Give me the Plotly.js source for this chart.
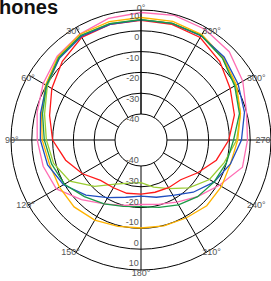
<!DOCTYPE html>
<html><head><meta charset="utf-8">
<script src="https://cdn.plot.ly/plotly-3.0.1.min.js"></script>
<style>html,body{margin:0;padding:0;background:#fff;overflow:hidden}</style>
</head><body>
<div id="chart" style="width:271px;height:281px"></div>
<script>
const angles = [0,15,30,45,60,75,90,105,120,135,150,165,180,195,210,225,240,255,270,285,300,315,330,345,360];
const redMic    = [5,5,4.5,1,-3,-7,-10,-15,-20,-25,-26,-26,-26.5,-26.5,-26,-25.5,-21,-15,-10.3,-6,-3,1,4.4,5,5];
const blueMic   = [5.3,5,5,3,0,-2.5,-4.1,-6,-9.5,-15,-20.5,-24,-25.5,-24,-21.7,-17,-12,-8,-4.2,-1,1.4,4,5.3,5.5,5.3];
const greenMic  = [5.4,5.4,5.5,3.5,0,-3.5,-6,-8,-10,-14,-17,-19.5,-20.5,-19,-16.5,-14,-12,-10,-8,-3.5,-0.5,3,5.5,5.5,5.4];
const limeMic   = [5.4,5.4,5.5,3.2,-0.5,-4.5,-7,-9,-13,-21,-28,-31,-32,-29,-25.5,-20,-14.5,-11,-6.5,-3,0,3,5.5,5.5,5.4];
const orangeMic = [6.4,6.4,6.2,4,0.5,-3,-5,-7,-7.2,-7,-8,-9.5,-10.2,-9.8,-9.2,-7.8,-7.8,-8,-6,-3,0.5,3.5,6,6.5,6.4];
const pinkMic   = [8.8,8,6.3,4.5,1.8,-0.8,-2.6,-3.8,-5.5,-12,-17,-20,-21.5,-20.5,-18,-14,-9,-2,-1.3,0,4,7.5,9,9.5,8.8];
const radialTicks = [-40,-30,-20,-10,0,10];
const radialTickText = ['-40','-30','-20','-10','0','10'];
const angleTicksVertical = [0,180];
const angleTextVertical = ['0°','180°'];
const angleTicksSide = [30,60,90,120,150,210,240,300,330];
const angleTextSide = ['30°','60°','90°','120°','150°','210°','240°','300°','330°'];
const angleTicksRight = [270];
const angleTextRight = ['270°'];

const series = [
  {r: limeMic,   color: '#9acd32'},
  {r: redMic,    color: '#ff1a1a'},
  {r: pinkMic,   color: '#ff6eb4'},
  {r: orangeMic, color: '#ffb300'},
  {r: blueMic,   color: '#1f4fc0'},
  {r: greenMic,  color: '#1a9a46'}
];
const traces = series.map(s => ({
  type: 'scatterpolar', mode: 'lines', r: s.r, theta: angles,
  line: {color: s.color, width: 1.3}, showlegend: false, hoverinfo: 'skip'
}));
['polar2','polar3','polar4','polar5','polar6'].forEach(sp => traces.push(
  {type:'scatterpolar', mode:'lines', r: [], theta: [], subplot: sp, showlegend:false, hoverinfo:'skip'}));

const tickFont = {family: 'Liberation Sans, Arial, sans-serif', size: 9, color: '#555'};
const fullDomain = {x: [0, 1], y: [0, 1]};
const hiddenAngular = {direction: 'counterclockwise', rotation: 90, showgrid: false, showline: false,
  showticklabels: false, ticks: ''};
const labelRadial = (angle, side, tickangle) => ({angle: angle, side: side, tickangle: tickangle, showline: false, showgrid: false,
  range: [-40, 13.16], tickvals: radialTicks, ticktext: radialTickText, ticks: '', tickfont: tickFont});
const ringDomain = R => ({x: [(130 - R) / 260, (130 + R) / 260], y: [(130 - R) / 260, (130 + R) / 260]});
const labelAngular = (vals, text, R) => ({
  domain: ringDomain(R), bgcolor: 'rgba(0,0,0,0)',
  radialaxis: {visible: false, range: [-40, 10]},
  angularaxis: {direction: 'counterclockwise', rotation: 90, tickvals: vals, ticktext: text, ticks: '',
    showgrid: false, showline: false, tickfont: tickFont}
});
const layout = {
  width: 271, height: 281,
  margin: {l: 11, r: 0, t: 10, b: 11},
  paper_bgcolor: '#fff',
  title: {text: 'Microphones', font: {family: 'Liberation Sans, Arial, sans-serif', size: 20, color: '#111', weight: 'bold'},
          xref: 'container', x: 58/271, xanchor: 'right', yref: 'container', y: 1, yanchor: 'top', pad: {t: 0}},
  polar: {
    domain: fullDomain, hole: 0.2, bgcolor: '#fff',
    radialaxis: {angle: 90, showline: true, range: [-40, 10], tickvals: radialTicks, showticklabels: false,
      ticks: '', gridcolor: '#000', linecolor: '#000'},
    angularaxis: {direction: 'counterclockwise', rotation: 90, dtick: 30, ticks: '',
      showticklabels: false, gridcolor: '#000', linecolor: '#000', showline: true}
  },
  polar2: {domain: fullDomain, hole: 0.1577, bgcolor: 'rgba(0,0,0,0)',
    radialaxis: labelRadial(90, 'counterclockwise', 90), angularaxis: hiddenAngular},
  polar3: {domain: fullDomain, hole: 0.1577, bgcolor: 'rgba(0,0,0,0)',
    radialaxis: labelRadial(270, 'clockwise', -90), angularaxis: hiddenAngular},
  polar4: labelAngular(angleTicksVertical, angleTextVertical, 126.5),
  polar5: labelAngular(angleTicksSide, angleTextSide, 122),
  polar6: labelAngular(angleTicksRight, angleTextRight, 114)
};
Plotly.newPlot('chart', traces, layout, {displayModeBar: false, staticPlot: true});
</script>
</body></html>
